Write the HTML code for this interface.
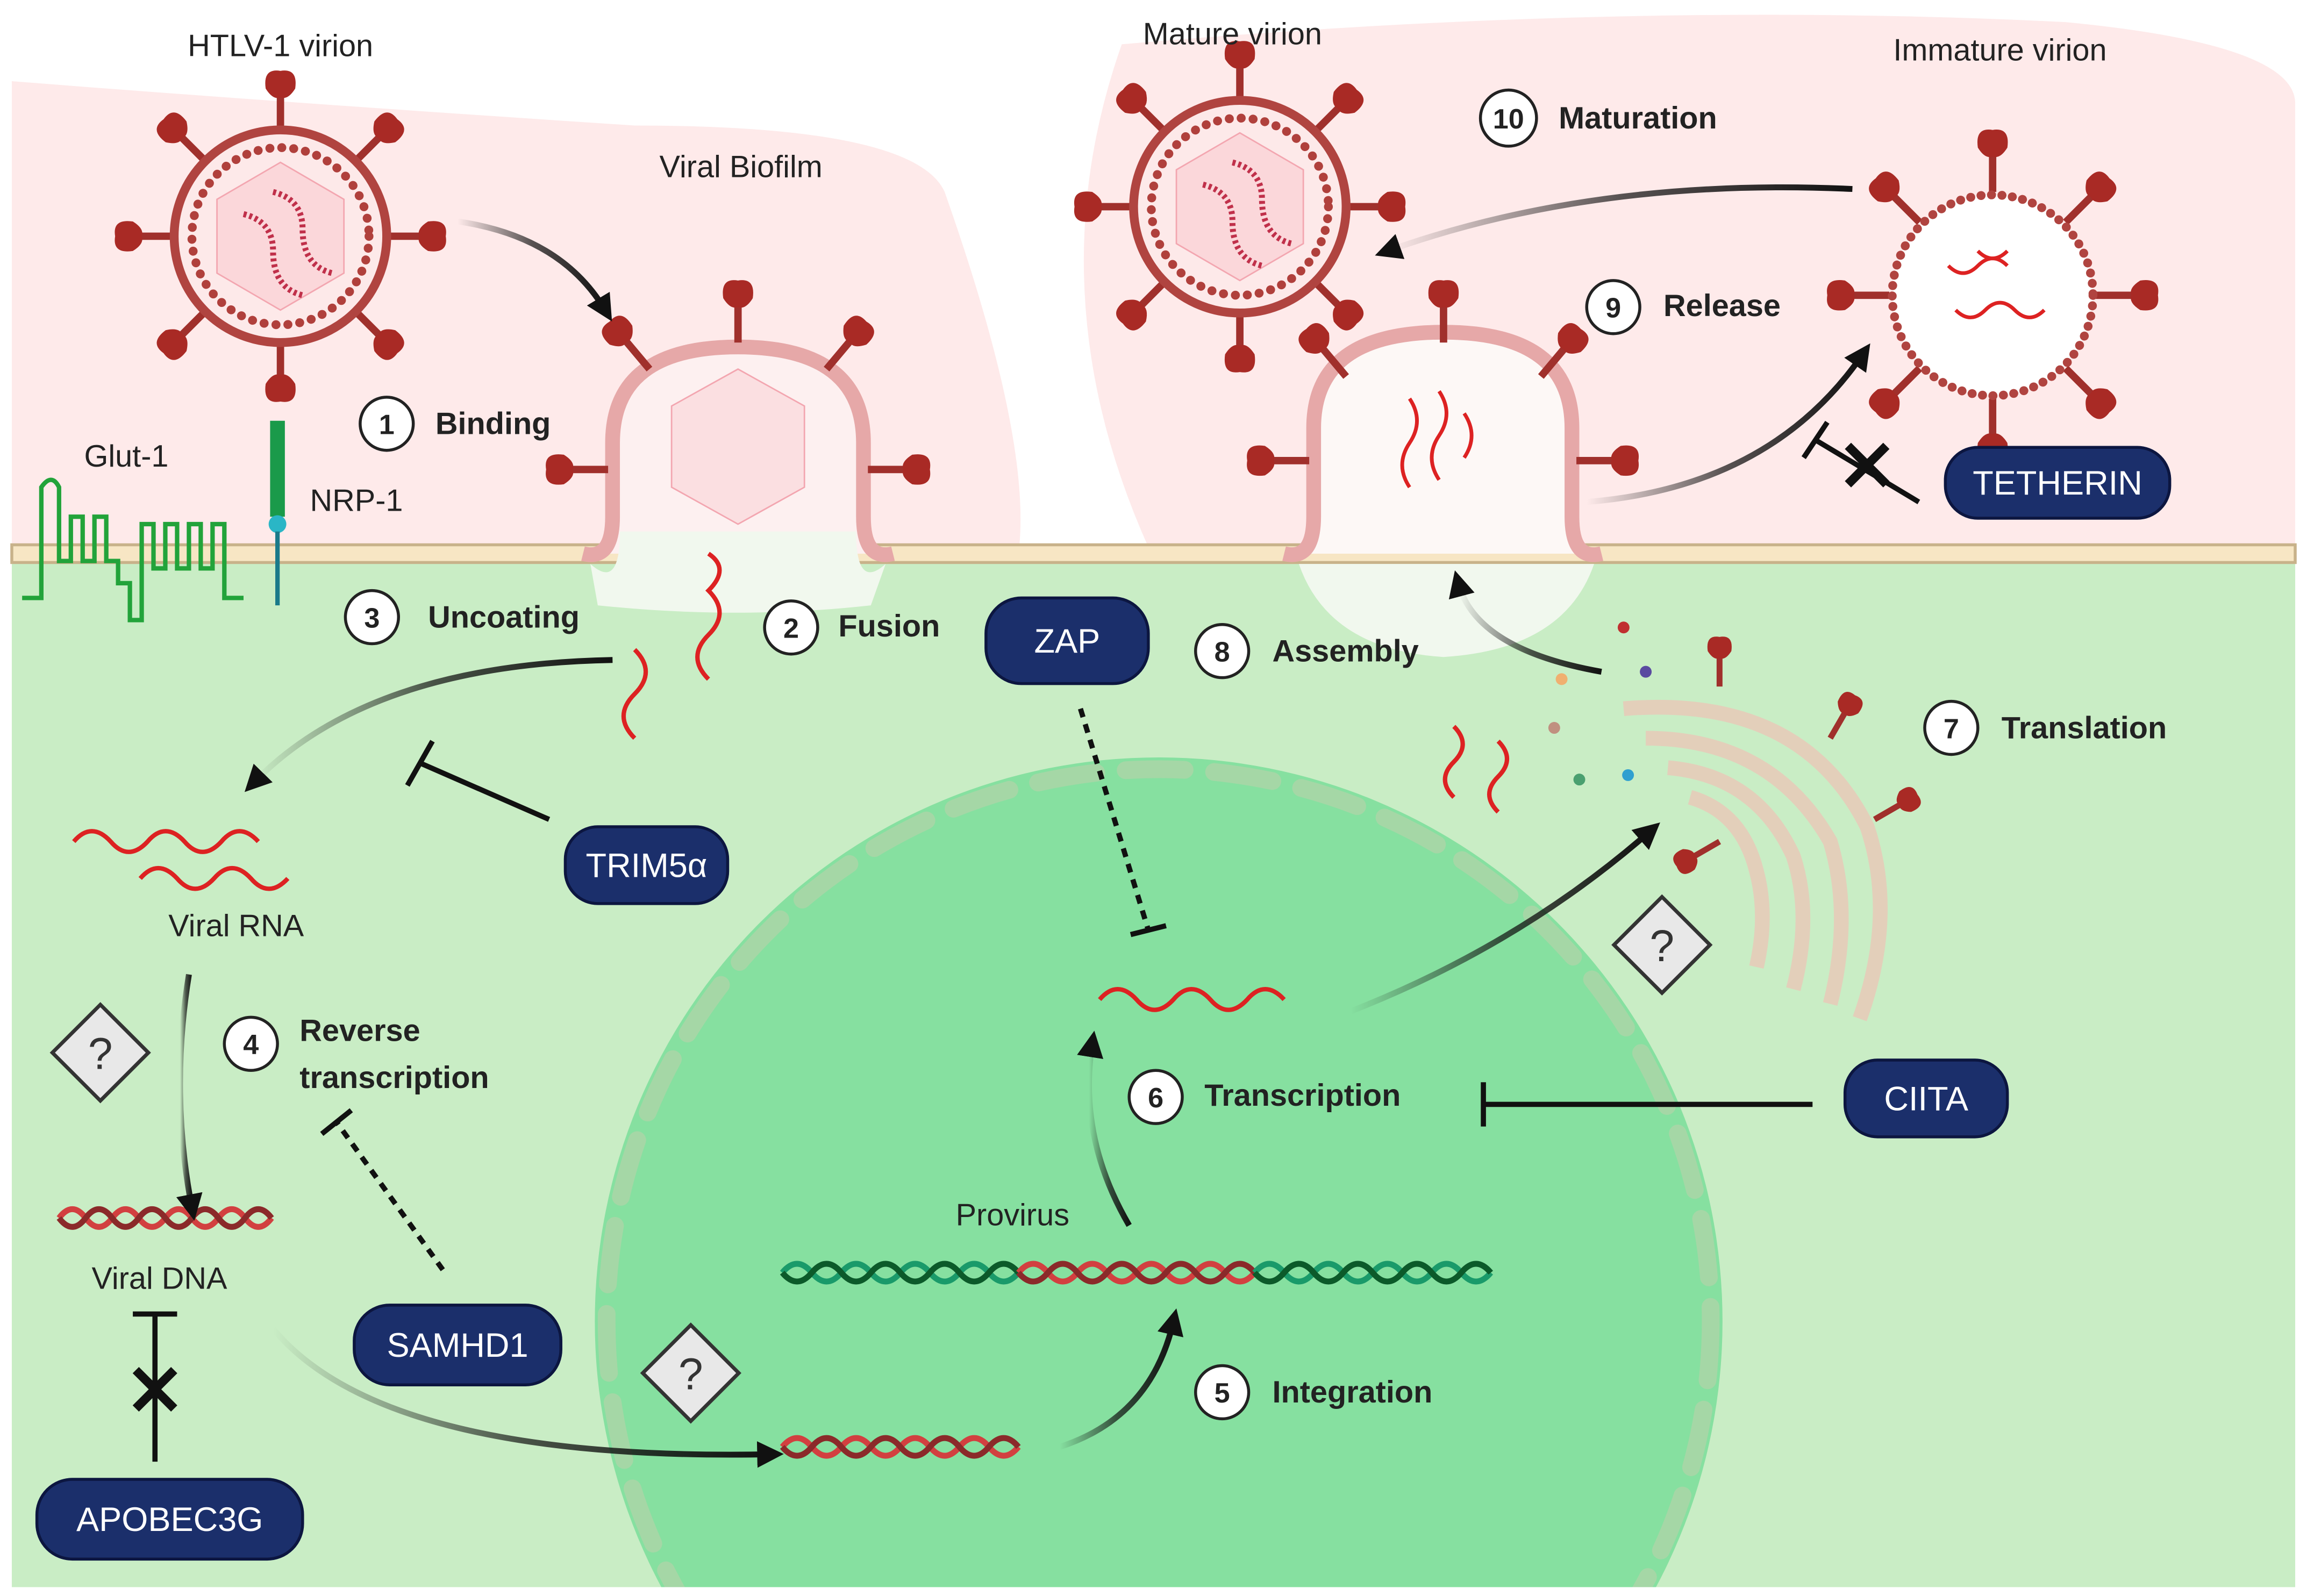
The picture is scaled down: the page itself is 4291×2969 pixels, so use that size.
<!DOCTYPE html>
<html><head><meta charset="utf-8"><style>
html,body{margin:0;padding:0;background:#fff;width:4291px;height:2969px;overflow:hidden}
svg{display:block}
text{font-family:"Liberation Sans",sans-serif}
.lb{font-size:21px;fill:#222}
.bd{font-size:21px;font-weight:bold;fill:#222}
.pill{fill:#1b2f6b;stroke:#0c1640;stroke-width:2}
.pt{font-size:23px;fill:#fff;text-anchor:middle}
.num{fill:#fff;stroke:#222;stroke-width:2}
.nt{font-size:19px;font-weight:bold;fill:#222;text-anchor:middle}
</style></head><body>
<svg width="4291" height="2969" viewBox="0 0 1563 1081" preserveAspectRatio="none" xmlns="http://www.w3.org/2000/svg">
<defs>
<marker id="ah" viewBox="0 0 8 8" markerWidth="4.5" markerHeight="4.5" refX="4" refY="4" orient="auto" markerUnits="strokeWidth"><path d="M0,0 L8,4 L0,8 z" fill="#111"/></marker>
<linearGradient id="ga" x1="0" x2="1"><stop offset="0" stop-color="#111" stop-opacity="0"/><stop offset="0.5" stop-color="#111" stop-opacity="0.7"/><stop offset="1" stop-color="#111"/></linearGradient>
<clipPath id="cell"><rect x="8" y="380" width="1547" height="695"/></clipPath>
<g id="spike"><line x1="0" y1="0" x2="0" y2="-30" stroke="#a0302c" stroke-width="5"/><path d="M-10,-30 Q-12,-44 0,-42 Q12,-44 10,-30 Q5,-22 0,-24 Q-5,-22 -10,-30z" fill="#a92a25"/></g>
<g id="vir">
<use href="#spike" transform="rotate(0) translate(0,-70)"/><use href="#spike" transform="rotate(45) translate(0,-70)"/><use href="#spike" transform="rotate(90) translate(0,-70)"/><use href="#spike" transform="rotate(135) translate(0,-70)"/><use href="#spike" transform="rotate(180) translate(0,-70)"/><use href="#spike" transform="rotate(225) translate(0,-70)"/><use href="#spike" transform="rotate(270) translate(0,-70)"/><use href="#spike" transform="rotate(315) translate(0,-70)"/>
<circle r="72" fill="#fde9e9" stroke="#b04440" stroke-width="6"/>
<circle r="60" fill="none" stroke="#b0403c" stroke-width="6" stroke-dasharray="0.1 8" stroke-linecap="round"/>
<polygon points="0,-50 43,-25 43,25 0,50 -43,25 -43,-25" fill="#fbd7da" stroke="#f3a6b0" stroke-width="1"/>
<path d="M-25,-15 q20,5 20,25 q0,25 20,30" fill="none" stroke="#c0304a" stroke-width="4" stroke-dasharray="2 2"/>
<path d="M-5,-30 q20,5 20,25 q0,25 20,30" fill="none" stroke="#c0304a" stroke-width="4" stroke-dasharray="2 2"/>
</g>
</defs>
<rect width="1563" height="1081" fill="#fff"/>
<path d="M8,55 Q200,70 430,85 Q620,85 640,130 Q700,300 690,375 L8,375z" fill="#feeaea"/>
<path d="M760,30 Q1100,0 1400,15 Q1555,30 1555,70 L1555,375 L780,375 Q700,200 760,30z" fill="#feeaea"/>
<rect x="8" y="380" width="1547" height="695" fill="#c9edc5"/>
<g clip-path="url(#cell)">
<circle cx="785" cy="895" r="382" fill="#86e0a0"/>
<circle cx="785" cy="895" r="374" fill="none" stroke="#a5d7a6" stroke-width="12" stroke-dasharray="40 20" stroke-linecap="round"/>
</g>
<rect x="8" y="369" width="1547" height="12" fill="#f7e6c4" stroke="#c8b28a" stroke-width="2"/>
<path d="M395,375 Q415,380 415,350 L415,300 Q415,235 500,235 Q585,235 585,300 L585,350 Q585,380 605,375" fill="#fdf0f0" stroke="#e6a8a8" stroke-width="10"/>
<path d="M400,382 Q420,400 420,360 L580,360 Q580,400 600,382 L590,410 Q500,420 405,410z" fill="#f1f8ee"/>
<use href="#spike" transform="translate(500,232)"/><use href="#spike" transform="translate(440,250) rotate(-40)"/><use href="#spike" transform="translate(560,250) rotate(40)"/><use href="#spike" transform="translate(412,318) rotate(-90)"/><use href="#spike" transform="translate(588,318) rotate(90)"/>
<polygon points="500,250 545,275 545,330 500,355 455,330 455,275" fill="#fbdfe1" stroke="#f3a6b0"/>
<path d="M870,375 Q890,380 890,350 L890,290 Q890,225 978,225 Q1065,225 1065,290 L1065,350 Q1065,380 1085,375" fill="#fdf8f6" stroke="#e6a8a8" stroke-width="10"/>
<path d="M880,382 L1080,382 Q1060,440 978,445 Q900,440 880,382z" fill="#f1f8ee"/>
<use href="#spike" transform="translate(978,232)"/><use href="#spike" transform="translate(912,255) rotate(-40)"/><use href="#spike" transform="translate(1044,255) rotate(40)"/><use href="#spike" transform="translate(887,312) rotate(-90)"/><use href="#spike" transform="translate(1068,312) rotate(90)"/>
<g fill="none" stroke="#d22" stroke-width="2.5"><path d="M955,270 q10,15 0,30 q-10,15 0,30"/><path d="M975,265 q10,15 0,30 q-10,15 0,30"/><path d="M992,280 q10,15 0,30"/></g>
<use href="#vir" transform="translate(190,160)"/>
<use href="#vir" transform="translate(840,140)"/>
<g transform="translate(1350,200)">
<use href="#spike" transform="rotate(0) translate(0,-70)"/><use href="#spike" transform="rotate(45) translate(0,-70)"/><use href="#spike" transform="rotate(90) translate(0,-70)"/><use href="#spike" transform="rotate(135) translate(0,-70)"/><use href="#spike" transform="rotate(180) translate(0,-70)"/><use href="#spike" transform="rotate(225) translate(0,-70)"/><use href="#spike" transform="rotate(270) translate(0,-70)"/><use href="#spike" transform="rotate(315) translate(0,-70)"/>
<circle r="68" fill="#fff" stroke="#b04440" stroke-width="6" stroke-dasharray="0.1 7" stroke-linecap="round"/>
<g fill="none" stroke="#d22" stroke-width="2.5"><path d="M-30,-20 q10,10 20,0 q10,-10 20,0"/><path d="M-25,10 q10,10 20,0 q10,-10 20,0 q10,10 20,0"/><path d="M-10,-30 q10,10 20,0"/></g>
</g>
<path d="M15,405 L28,405 L28,330 Q35,320 40,330 L40,380 L48,380 L48,350 L56,350 L56,380 L64,380 L64,350 L72,350 L72,380 L80,380 L80,395 L88,395 L88,420 L96,420 L96,355 L104,355 L104,385 L112,385 L112,355 L120,355 L120,385 L128,385 L128,355 L136,355 L136,385 L144,385 L144,355 L152,355 L152,405 L165,405" fill="none" stroke="#22a33a" stroke-width="3"/>
<rect x="183" y="285" width="10" height="65" fill="#1a9a4a"/><circle cx="188" cy="355" r="6" fill="#2ab6c6"/><line x1="188" y1="360" x2="188" y2="410" stroke="#1a7a8a" stroke-width="3"/>
<text x="190" y="38" class="lb" text-anchor="middle">HTLV-1 virion</text>
<text x="502" y="120" class="lb" text-anchor="middle">Viral Biofilm</text>
<text x="835" y="30" class="lb" text-anchor="middle">Mature virion</text>
<text x="1355" y="41" class="lb" text-anchor="middle">Immature virion</text>
<text x="57" y="316" class="lb">Glut-1</text>
<text x="210" y="346" class="lb">NRP-1</text>
<text x="160" y="634" class="lb" text-anchor="middle">Viral RNA</text>
<text x="108" y="873" class="lb" text-anchor="middle">Viral DNA</text>
<text x="686" y="830" class="lb" text-anchor="middle">Provirus</text>
<g>
<circle class="num" cx="262" cy="287" r="18"/><text class="nt" x="262" y="294">1</text><text class="bd" x="295" y="294">Binding</text>
<circle class="num" cx="536" cy="425" r="18"/><text class="nt" x="536" y="432">2</text><text class="bd" x="568" y="431">Fusion</text>
<circle class="num" cx="252" cy="418" r="18"/><text class="nt" x="252" y="425">3</text><text class="bd" x="290" y="425">Uncoating</text>
<circle class="num" cx="170" cy="707" r="18"/><text class="nt" x="170" y="714">4</text><text class="bd" x="203" y="705">Reverse</text><text class="bd" x="203" y="737">transcription</text>
<circle class="num" cx="828" cy="943" r="18"/><text class="nt" x="828" y="950">5</text><text class="bd" x="862" y="950">Integration</text>
<circle class="num" cx="783" cy="743" r="18"/><text class="nt" x="783" y="750">6</text><text class="bd" x="816" y="749">Transcription</text>
<circle class="num" cx="1322" cy="493" r="18"/><text class="nt" x="1322" y="500">7</text><text class="bd" x="1356" y="500">Translation</text>
<circle class="num" cx="828" cy="441" r="18"/><text class="nt" x="828" y="448">8</text><text class="bd" x="862" y="448">Assembly</text>
<circle class="num" cx="1093" cy="208" r="18"/><text class="nt" x="1093" y="215">9</text><text class="bd" x="1127" y="214">Release</text>
<circle class="num" cx="1022" cy="80" r="19"/><text class="nt" x="1022" y="87">10</text><text class="bd" x="1056" y="87">Maturation</text>
</g>
<rect class="pill" x="383" y="560" width="110" height="52" rx="22"/><text class="pt" x="438" y="594">TRIM5α</text>
<rect class="pill" x="25" y="1002" width="180" height="54" rx="24"/><text class="pt" x="115" y="1037">APOBEC3G</text>
<rect class="pill" x="240" y="884" width="140" height="54" rx="24"/><text class="pt" x="310" y="919">SAMHD1</text>
<rect class="pill" x="668" y="405" width="110" height="58" rx="24"/><text class="pt" x="723" y="442">ZAP</text>
<rect class="pill" x="1250" y="718" width="110" height="52" rx="22"/><text class="pt" x="1305" y="752">CIITA</text>
<rect class="pill" x="1318" y="303" width="152" height="48" rx="22"/><text class="pt" x="1394" y="335">TETHERIN</text>
<g fill="none" stroke="#d22" stroke-width="3">
<path d="M50,570 q12,-14 25,0 q12,14 25,0 q12,-14 25,0 q12,14 25,0 q12,-14 25,0"/>
<path d="M95,595 q12,-14 25,0 q12,14 25,0 q12,-14 25,0 q12,14 25,0"/>
<path d="M745,677 q12,-14 25,0 q12,14 25,0 q12,-14 25,0 q12,14 25,0 q12,-14 25,0"/>
<path d="M430,500 q-15,-15 0,-30 q15,-15 0,-30"/><path d="M480,460 q-15,-15 0,-30 q15,-15 0,-30 q15,-15 0,-25"/>
<path d="M985,540 q-12,-12 0,-24 q12,-12 0,-24"/><path d="M1015,550 q-12,-12 0,-24 q12,-12 0,-24"/>
</g>
<g fill="none" stroke-width="4">
<path d="M40,825 q9,-12 18,0 q9,12 18,0 q9,-12 18,0 q9,12 18,0 q9,-12 18,0 q9,12 18,0 q9,-12 18,0 q9,12 18,0" stroke="#d24040"/>
<path d="M40,825 q9,12 18,0 q9,-12 18,0 q9,12 18,0 q9,-12 18,0 q9,12 18,0 q9,-12 18,0 q9,12 18,0 q9,-12 18,0" stroke="#8b2a2a"/>
<path d="M530,980 q10,-12 20,0 q10,12 20,0 q10,-12 20,0 q10,12 20,0 q10,-12 20,0 q10,12 20,0 q10,-12 20,0 q10,12 20,0" stroke="#d24040"/>
<path d="M530,980 q10,12 20,0 q10,-12 20,0 q10,12 20,0 q10,-12 20,0 q10,12 20,0 q10,-12 20,0 q10,12 20,0 q10,-12 20,0" stroke="#8b2a2a"/>
<path d="M530,862 q10,-12 20,0 q10,12 20,0 q10,-12 20,0 q10,12 20,0 q10,-12 20,0 q10,12 20,0 q10,-12 20,0 q10,12 20,0" stroke="#1a9a6a"/>
<path d="M530,862 q10,12 20,0 q10,-12 20,0 q10,12 20,0 q10,-12 20,0 q10,12 20,0 q10,-12 20,0 q10,12 20,0 q10,-12 20,0" stroke="#0c5a2a"/>
<path d="M690,862 q10,-12 20,0 q10,12 20,0 q10,-12 20,0 q10,12 20,0 q10,-12 20,0 q10,12 20,0 q10,-12 20,0 q10,12 20,0" stroke="#d24040"/>
<path d="M690,862 q10,12 20,0 q10,-12 20,0 q10,12 20,0 q10,-12 20,0 q10,12 20,0 q10,-12 20,0 q10,12 20,0 q10,-12 20,0" stroke="#8b2a2a"/>
<path d="M850,862 q10,-12 20,0 q10,12 20,0 q10,-12 20,0 q10,12 20,0 q10,-12 20,0 q10,12 20,0 q10,-12 20,0 q10,12 20,0" stroke="#1a9a6a"/>
<path d="M850,862 q10,12 20,0 q10,-12 20,0 q10,12 20,0 q10,-12 20,0 q10,12 20,0 q10,-12 20,0 q10,12 20,0 q10,-12 20,0" stroke="#0c5a2a"/>
</g>
<g fill="none" stroke="#eac8b8" stroke-width="10" opacity="0.8">
<path d="M1100,480 Q1220,470 1265,560 Q1285,620 1260,690"/>
<path d="M1115,500 Q1200,500 1240,570 Q1255,620 1240,680"/>
<path d="M1130,520 Q1190,525 1215,580 Q1228,620 1215,670"/>
<path d="M1145,540 Q1180,550 1190,590 Q1198,620 1190,655"/>
</g>
<use href="#spike" transform="translate(1165,465) scale(0.8)"/><use href="#spike" transform="translate(1240,500) rotate(30) scale(0.8)"/><use href="#spike" transform="translate(1270,555) rotate(60) scale(0.8)"/><use href="#spike" transform="translate(1165,570) rotate(-120) scale(0.8)"/>
<g><circle cx="1058" cy="460" r="4" fill="#f0b070"/><circle cx="1100" cy="425" r="4" fill="#c03030"/><circle cx="1115" cy="455" r="4" fill="#5a4aa0"/><circle cx="1053" cy="493" r="4" fill="#c09080"/><circle cx="1070" cy="528" r="4" fill="#4aa070"/><circle cx="1103" cy="525" r="4" fill="#30a0d0"/></g>
<g fill="#e8e8e8" stroke="#333" stroke-width="2.5">
<rect x="45" y="690" width="46" height="46" transform="rotate(45 68 713)"/>
<rect x="445" y="907" width="46" height="46" transform="rotate(45 468 930)"/>
<rect x="1103" y="617" width="46" height="46" transform="rotate(45 1126 640)"/>
</g>
<g font-family="Liberation Serif" font-size="30" fill="#333" text-anchor="middle"><text x="68" y="724">?</text><text x="468" y="941">?</text><text x="1126" y="651">?</text></g>
<g fill="none" stroke="url(#ga)" stroke-width="4" marker-end="url(#ah)">
<path d="M310,150 Q380,160 410,210"/>
<path d="M415,447 Q250,450 172,530"/>
<path d="M128,660 Q115,740 130,818"/>
<path d="M185,900 Q260,990 522,985"/>
<path d="M718,980 Q780,960 795,895"/>
<path d="M765,830 Q730,770 740,707"/>
<path d="M915,685 Q1030,640 1118,563"/>
<path d="M1085,455 Q1000,440 988,395"/>
<path d="M1075,340 Q1200,330 1262,240"/>
<path d="M1255,128 Q1080,120 940,170"/>
</g>
<g stroke="#111" stroke-width="3.5" fill="none">
<line x1="372" y1="555" x2="285" y2="517"/><line x1="276" y1="532" x2="293" y2="502"/>
<line x1="105" y1="990" x2="105" y2="890"/><line x1="90" y1="890" x2="120" y2="890"/>
<path d="M92,928 L118,954 M118,928 L92,954" stroke-width="6"/>
<line x1="300" y1="860" x2="228" y2="760" stroke-dasharray="6 5"/><line x1="218" y1="768" x2="238" y2="752"/>
<line x1="732" y1="480" x2="778" y2="630" stroke-dasharray="6 5"/><line x1="766" y1="633" x2="790" y2="627"/>
<line x1="1228" y1="748" x2="1005" y2="748"/><line x1="1005" y1="733" x2="1005" y2="763"/>
<line x1="1300" y1="340" x2="1230" y2="298"/><line x1="1222" y1="310" x2="1238" y2="286"/>
<path d="M1252,302 L1278,328 M1278,302 L1252,328" stroke-width="6"/>
</g>
</svg>
</body></html>
